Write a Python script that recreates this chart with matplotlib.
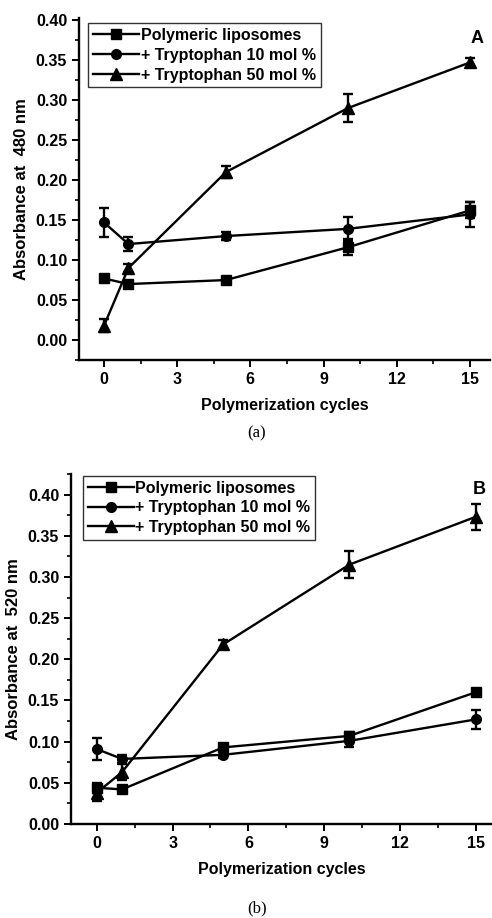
import matplotlib
matplotlib.use('Agg')
import matplotlib.pyplot as plt
from matplotlib.lines import Line2D
from matplotlib.ticker import MultipleLocator

plt.rcParams['font.family'] = ['Liberation Sans', 'DejaVu Sans']
plt.rcParams['font.weight'] = 'bold'

cycles = [0, 1, 5, 10, 15]
labels = ['Polymeric liposomes', '+ Tryptophan 10 mol %', '+ Tryptophan 50 mol %']
markers = ['s', 'o', '^']

# Panel A: absorbance at 480 nm
a_lipo = [0.077, 0.070, 0.075, 0.116, 0.162]
a_lipo_err = [0.003, 0.003, 0.003, 0.010, 0.010]
a_t10 = [0.147, 0.120, 0.130, 0.139, 0.157]
a_t10_err = [0.018, 0.009, 0.005, 0.015, 0.016]
a_t50 = [0.018, 0.090, 0.210, 0.290, 0.347]
a_t50_err = [0.008, 0.005, 0.008, 0.018, 0.006]

# Panel B: absorbance at 520 nm
b_lipo = [0.044, 0.042, 0.093, 0.107, 0.160]
b_lipo_err = [0.006, 0.003, 0.004, 0.005, 0.003]
b_t10 = [0.091, 0.079, 0.084, 0.101, 0.127]
b_t10_err = [0.013, 0.005, 0.004, 0.008, 0.012]
b_t50 = [0.038, 0.063, 0.218, 0.315, 0.373]
b_t50_err = [0.010, 0.010, 0.005, 0.016, 0.016]

fig = plt.figure(figsize=(4.92, 9.18), dpi=100)


def draw(ax, series, errs, ylabel, letter, letter_y, ylim, xlim, leg_anchor):
    handles = []
    for y, e, m, lab in zip(series, errs, markers, labels):
        ms = 8 if m == '^' else 7
        ax.errorbar(cycles, y, yerr=e, color='black', marker=m, ms=ms,
                    lw=1.7, elinewidth=1.7, capsize=3.5, capthick=1.7)
        handles.append(Line2D([], [], color='black', marker=m, ms=ms, lw=1.7, label=lab))
    ax.set_xlim(*xlim)
    ax.set_ylim(*ylim)
    ax.xaxis.set_major_locator(MultipleLocator(3))
    ax.xaxis.set_minor_locator(MultipleLocator(1.5))
    ax.yaxis.set_major_locator(MultipleLocator(0.05))
    ax.yaxis.set_minor_locator(MultipleLocator(0.025))
    ax.yaxis.set_major_formatter(lambda v, p: '%.2f' % v)
    for s in ['top', 'right']:
        ax.spines[s].set_visible(False)
    for s in ['left', 'bottom']:
        ax.spines[s].set_linewidth(1.7)
    ax.tick_params(which='major', direction='out', length=5, width=1.4, labelsize=11.5)
    ax.tick_params(which='minor', direction='out', length=3, width=1.2)
    ax.set_xlabel('Polymerization cycles', fontsize=11.5, fontweight='bold', labelpad=8)
    ax.set_ylabel(ylabel, fontsize=12, fontweight='bold', labelpad=5)
    leg = ax.legend(handles=handles, loc='upper left', bbox_to_anchor=leg_anchor,
                    fontsize=11.5, frameon=True, fancybox=False, edgecolor='black',
                    handlelength=2.9, handletextpad=0.1, borderpad=0.3,
                    labelspacing=0.3, borderaxespad=0.0)
    leg.get_frame().set_linewidth(1.0)
    for t in leg.get_texts():
        t.set_fontweight('bold')
    ax.text(0.985, letter_y, letter, transform=ax.transAxes, fontsize=13,
            fontweight='bold', ha='right', va='center')


ax1 = fig.add_axes([0.1606, 0.6078, 0.835, 0.3725])
draw(ax1, [a_lipo, a_t10, a_t50], [a_lipo_err, a_t10_err, a_t50_err],
     'Absorbance at  480 nm', 'A', 0.94, (-0.025, 0.4025), (-1.025, 15.82), (0.022, 0.985))

ax2 = fig.add_axes([0.1443, 0.1024, 0.8557, 0.3813])
draw(ax2, [b_lipo, b_t10, b_t50], [b_lipo_err, b_t10_err, b_t50_err],
     'Absorbance at  520 nm', 'B', 0.957, (0.0, 0.425), (-1.02, 15.64), (0.028, 0.995))

fig.text(0.522, 1 - 433 / 918, '(a)', family='Liberation Serif', fontweight='normal',
         fontsize=12, ha='center', va='center')
fig.text(0.522, 1 - 908 / 918, '(b)', family='Liberation Serif', fontweight='normal',
         fontsize=12, ha='center', va='center')

fig.savefig('out.png', dpi=100)
